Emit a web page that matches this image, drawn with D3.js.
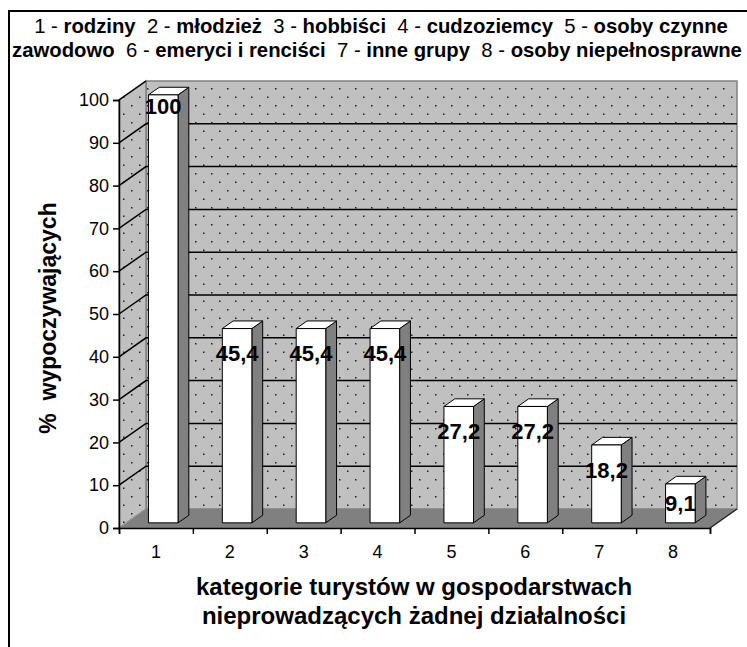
<!DOCTYPE html>
<html>
<head>
<meta charset="utf-8">
<script src="https://cdn.jsdelivr.net/npm/d3@7"></script>
<style>
  body { margin: 0; background: #fff; }
  text { font-family: "Liberation Sans", Arial, sans-serif; }
</style>
</head>
<body>
<svg id="chart" width="747" height="647"></svg>
<script>
// data
const categories = ["1", "2", "3", "4", "5", "6", "7", "8"];
const values = [100, 45.4, 45.4, 45.4, 27.2, 27.2, 18.2, 9.1];
const valueLabels = ["100", "45,4", "45,4", "45,4", "27,2", "27,2", "18,2", "9,1"];
const yTicks = [0, 10, 20, 30, 40, 50, 60, 70, 80, 90, 100];
const legendLine1 = [["1 - ", "rodziny"], ["2 - ", "młodzież"], ["3 - ", "hobbiści"], ["4 - ", "cudzoziemcy"], ["5 - ", "osoby czynne"]];
const legendLine2 = [["", "zawodowo"], ["6 - ", "emeryci i renciści"], ["7 - ", "inne grupy"], ["8 - ", "osoby niepełnosprawne"]];
const xTitle = ["kategorie turystów w gospodarstwach", "nieprowadzących żadnej działalności"];
const yTitle = "%  wypoczywających";

const svg = d3.select("#chart");

// outer frame
svg.append("rect")
  .attr("x", 9).attr("y", 11).attr("width", 760).attr("height", 660)
  .attr("fill", "#fff").attr("stroke", "#000").attr("stroke-width", 2);

// 3d-ish geometry
const DX = 27, DY = 19;
const y = d3.scaleLinear().domain([0, 100]).range([528, 100]);
const xb = d3.scaleLinear().domain([0, categories.length]).range([119, 710]);
const x = d3.scaleBand().domain(categories).range([119, 710]).paddingInner(0.6).paddingOuter(0.3);
const P = (px, v, z) => [px + z * DX, y(v) - z * DY];
const poly = pts => "M" + pts.map(p => p.join(",")).join("L") + "Z";

// dotted fill
const defs = svg.append("defs");
const pat = defs.append("pattern").attr("id", "dots")
  .attr("patternUnits", "userSpaceOnUse").attr("width", 16).attr("height", 17);
pat.append("rect").attr("width", 16).attr("height", 17).attr("fill", "#c0c0c0");
pat.append("rect").attr("x", 3).attr("y", 3).attr("width", 1.5).attr("height", 1.5).attr("fill", "#222");
pat.append("rect").attr("x", 11).attr("y", 11.5).attr("width", 1.5).attr("height", 1.5).attr("fill", "#222");

const x0 = xb(0), x1 = xb(categories.length);

// back wall
svg.append("path")
  .attr("d", poly([P(x0, 0, 1), P(x1, 0, 1), P(x1, 100, 1), P(x0, 100, 1)]))
  .attr("fill", "url(#dots)").attr("stroke", "#808080").attr("stroke-width", 1.5);
// side wall
svg.append("path")
  .attr("d", poly([P(x0, 0, 0), P(x0, 0, 1), P(x0, 100, 1), P(x0, 100, 0)]))
  .attr("fill", "url(#dots)").attr("stroke", "#808080").attr("stroke-width", 1.5);
// floor
svg.append("path")
  .attr("d", poly([P(x0, 0, 0), P(x1, 0, 0), P(x1, 0, 1), P(x0, 0, 1)]))
  .attr("fill", "#808080").attr("stroke", "none");

// gridlines: back wall + diagonal on side wall
const grid = svg.append("g").attr("stroke", "#000").attr("stroke-width", 1.5).attr("fill", "none");
yTicks.filter(t => t > 0 && t < 100).forEach(t => {
  grid.append("path").attr("d", "M" + P(x0, t, 0) + "L" + P(x0, t, 1) + "L" + P(x1, t, 1));
});
grid.append("path").attr("d", "M" + P(x0, 100, 0) + "L" + P(x0, 100, 1)).attr("stroke", "#000");
svg.append("path").attr("d", "M" + P(x1, 0, 0) + "L" + P(x1, 0, 1))
  .attr("stroke", "#222").attr("stroke-width", 1.5);
svg.append("path").attr("d", "M" + P(x0, 0, 0) + "L" + P(x0, 0, 1))
  .attr("stroke", "#999").attr("stroke-width", 1);

// bars
const zf = 0.27, zb = 0.67;
const bars = svg.append("g").selectAll("g").data(categories).join("g");
bars.each(function (c, i) {
  const g = d3.select(this);
  const l = x(c), r = x(c) + x.bandwidth(), v = values[i];
  g.append("path").attr("d", poly([P(r, 0, zf), P(r, 0, zb), P(r, v, zb), P(r, v, zf)]))
    .attr("fill", "#808080").attr("stroke", "#000").attr("stroke-width", 1);
  g.append("path").attr("d", poly([P(l, v, zf), P(r, v, zf), P(r, v, zb), P(l, v, zb)]))
    .attr("fill", "#fff").attr("stroke", "#000").attr("stroke-width", 1);
  g.append("path").attr("d", poly([P(l, 0, zf), P(r, 0, zf), P(r, v, zf), P(l, v, zf)]))
    .attr("fill", "#fff").attr("stroke", "#000").attr("stroke-width", 1);
});

// value labels (inside top of bar; kept within the plot)
svg.append("g").selectAll("text").data(categories).join("text")
  .attr("x", (c) => P(x(c) + x.bandwidth() / 2, 0, zf)[0])
  .attr("y", (c, i) => {
    const top = P(0, values[i], zf)[1];
    return values[i] >= y.domain()[1] ? top + 11 : Math.min(top + 25, 503);
  })
  .attr("dy", "0.36em")
  .attr("text-anchor", "middle")
  .attr("font-size", 22).attr("font-weight", "bold")
  .text((c, i) => valueLabels[i]);

// y axis
const yAxis = svg.append("g").attr("transform", `translate(${x0},0)`)
  .call(d3.axisLeft(y).tickValues(yTicks).tickSize(6).tickPadding(4));
yAxis.select(".domain").attr("stroke", "#000").attr("stroke-width", 1.5);
yAxis.selectAll(".tick line").attr("stroke", "#000").attr("stroke-width", 1.5);
yAxis.selectAll(".tick text").attr("font-size", 18).attr("fill", "#000")
  .attr("font-family", "Liberation Sans, Arial, sans-serif");

// x axis
const xAxis = svg.append("g").attr("transform", `translate(0,${y(0)})`)
  .call(d3.axisBottom(xb).tickValues(d3.range(categories.length + 1)).tickSize(6).tickFormat(""));
xAxis.select(".domain").attr("stroke", "#000").attr("stroke-width", 1.5);
xAxis.selectAll(".tick line").attr("stroke", "#000").attr("stroke-width", 1.5);
svg.append("g").selectAll("text").data(categories).join("text")
  .attr("x", c => x(c) + x.bandwidth() / 2)
  .attr("y", 558)
  .attr("text-anchor", "middle").attr("font-size", 18)
  .text(c => c);

// axis titles
svg.append("text").attr("x", 414).attr("y", 595).attr("text-anchor", "middle")
  .attr("font-size", 24).attr("font-weight", "bold").text(xTitle[0]);
svg.append("text").attr("x", 414).attr("y", 624).attr("text-anchor", "middle")
  .attr("font-size", 24).attr("font-weight", "bold").text(xTitle[1]);
svg.append("text").attr("transform", "translate(56,318) rotate(-90)")
  .attr("text-anchor", "middle").attr("font-size", 23).attr("font-weight", "bold")
  .style("white-space", "pre").text(yTitle);

// legend title (two lines, numbers normal / names bold)
function legendLine(items, cy) {
  const t = svg.append("text").attr("y", cy).attr("font-size", 18).style("white-space", "pre");
  items.forEach((it, k) => {
    t.append("tspan").attr("font-weight", "normal").text((k > 0 ? "  " : "") + it[0]);
    t.append("tspan").attr("font-weight", "bold").text(it[1]);
  });
  return t;
}
const l1 = legendLine(legendLine1, 33);
const l2 = legendLine(legendLine2, 57);
// scale font to fit the measured width of line 2 (730px)
const fs = 18 * 730 / l2.node().getComputedTextLength();
[l1, l2].forEach(t => t.attr("font-size", fs));
[[l1, 381], [l2, 377]].forEach(([t, cx]) => {
  t.attr("x", cx - t.node().getComputedTextLength() / 2);
});
</script>
</body>
</html>
